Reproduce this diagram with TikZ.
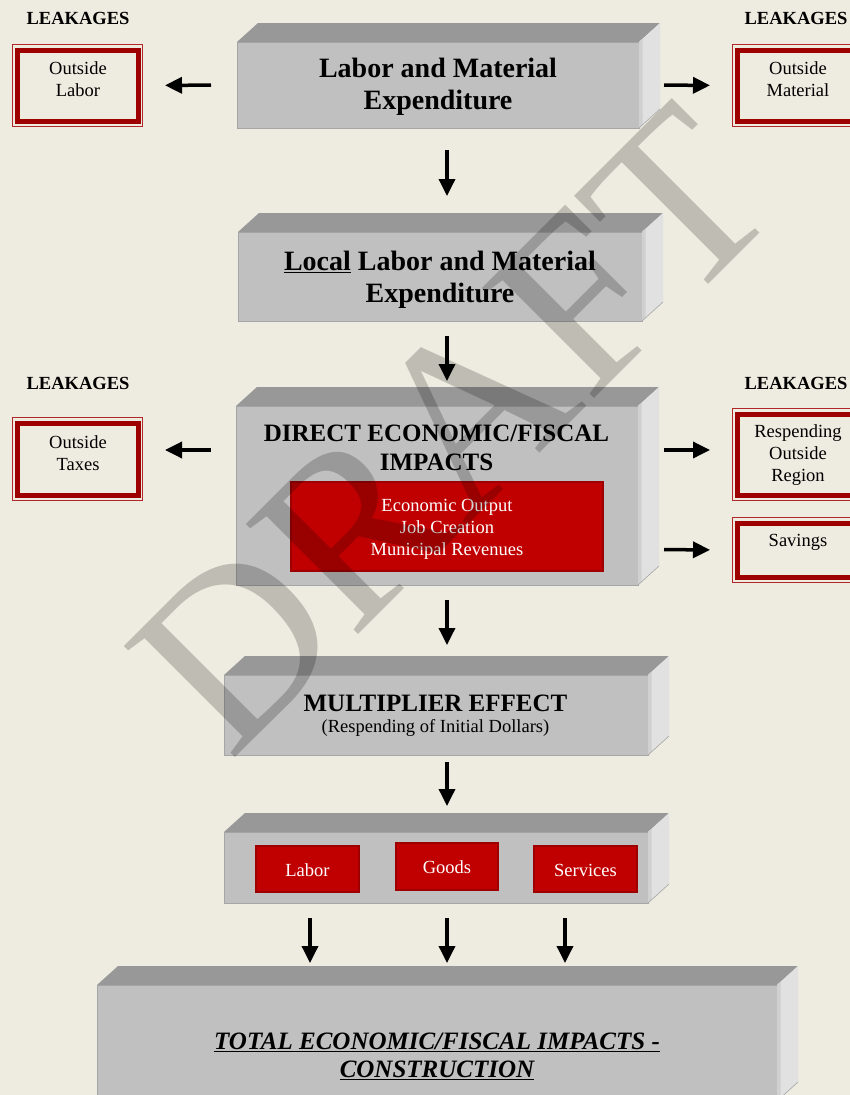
\documentclass[tikz,border=0pt]{standalone}
\usepackage{fontspec}
\setmainfont{Liberation Serif}
\usetikzlibrary{arrows.meta,calc}

\definecolor{paper}{RGB}{238,235,224}
\definecolor{slabfront}{RGB}{192,192,192}
\definecolor{slabtop}{RGB}{152,152,152}
\definecolor{slabside}{RGB}{225,225,225}
\definecolor{slabsidedark}{RGB}{208,208,208}
\definecolor{slabedge}{RGB}{166,166,166}
\definecolor{boxred}{RGB}{192,0,0}
\definecolor{boxredline}{RGB}{158,0,0}
\definecolor{leakred}{RGB}{158,0,0}
\definecolor{leakthin}{RGB}{178,40,40}

% top and right faces of a bevelled slab whose front face is node #1
\newcommand\slabfaces[1]{%
  \fill[slabtop] (#1.north west) -- ++(21,-19) -- ($(#1.north east)+(21,-19)$) -- (#1.north east) -- cycle;
  \fill[slabside] (#1.north east) -- ++(21,-19) -- ($(#1.south east)+(21,-19)$) -- (#1.south east) -- cycle;
  \fill[slabsidedark] (#1.north east) -- ++(3.5,-3.2) -- ($(#1.south east)+(3.5,-3.2)$) -- (#1.south east) -- cycle;
  \draw[slabedge, line width=0.6pt] (#1.south east) -- ($(#1.south east)+(21,-19)$);
}
% thin outer frame of a leakage box
\newcommand\leakframe[1]{%
  \draw[leakthin, line width=1pt] ([xshift=-4.8pt,yshift=5.3pt]#1.north west) rectangle ([xshift=4.8pt,yshift=-5.3pt]#1.south east);
}

\tikzset{
  slab/.style={draw=slabedge, line width=0.8pt, fill=slabfront, inner sep=0pt, outer sep=0pt},
  redbox/.style={draw=boxredline, line width=2pt, fill=boxred, inner sep=0pt, outer sep=0pt},
  leakbox/.style={draw=leakred, line width=5pt, minimum width=121pt, inner sep=0pt, outer sep=0pt},
  headA/.style={font=\bfseries\fontsize{28}{32}\selectfont, align=center, inner sep=0pt},
  headB/.style={font=\bfseries\fontsize{25}{29}\selectfont, align=center, inner sep=0pt},
  smalltext/.style={font=\fontsize{18.5}{22}\selectfont, align=center, inner sep=0pt},
  whitetext/.style={smalltext, text=white},
  leaklabel/.style={font=\bfseries\fontsize{18.5}{22}\selectfont, inner sep=0pt},
  arr/.style={line width=3.5pt, -{Triangle[length=17pt,width=16pt]}},
  watermark/.style={font=\fontsize{240}{240}\selectfont, text=black, text opacity=0.2,
    rotate=45, anchor=base west, inner sep=0pt}
}

\begin{document}
\begin{tikzpicture}[x=1pt, y=-1pt]
\useasboundingbox (0,0) rectangle (850,1095);
\clip (0,0) rectangle (850,1095);
\fill[paper] (0,0) rectangle (850,1095);

% slabs of the main flow
\node[slab, minimum width=402pt, minimum height=86pt] (b1) at (438,85) {};
\slabfaces{b1}
\node[slab, minimum width=404pt, minimum height=89pt] (b2) at (440,276.5) {};
\slabfaces{b2}
\node[slab, minimum width=402pt, minimum height=179pt] (b3) at (437,495.5) {};
\slabfaces{b3}
\node[slab, minimum width=424pt, minimum height=80pt] (b4) at (436,715) {};
\slabfaces{b4}
\node[slab, minimum width=424pt, minimum height=71pt] (b5) at (436,867.5) {};
\slabfaces{b5}
\node[slab, minimum width=680pt, minimum height=116pt] (b6) at (437,1043) {};
\slabfaces{b6}

% red panels
\node[redbox, minimum width=312pt, minimum height=89pt] (rb3) at (447,526.5) {};
\node[redbox, minimum width=103pt, minimum height=46pt] (rl) at (307.5,869) {};
\node[redbox, minimum width=102pt, minimum height=47pt] (rg) at (447,866.5) {};
\node[redbox, minimum width=103pt, minimum height=46pt] (rs) at (585.5,869) {};

% slab texts
\node[headA] (t1) at (438,87) {Labor and Material\\Expenditure};
\node[headA] (t2) at (440,280) {\underline{Local} Labor and Material\\Expenditure};
\node[headB] (t3) at (436.5,447.5) {DIRECT ECONOMIC/FISCAL\\IMPACTS};
\node[whitetext] (t3r) at (447,529) {Economic Output\\Job Creation\\Municipal Revenues};
\node[headB] (t4) at (435.5,703) {MULTIPLIER EFFECT};
\node[smalltext] (t4s) at (435.5,728) {(Respending of Initial Dollars)};
\node[whitetext] (tl) at (307.5,870) {Labor};
\node[whitetext] (tg) at (447,867) {Goods};
\node[whitetext] (ts) at (585.5,870) {Services};
\node[headB, font=\bfseries\itshape\fontsize{25}{28}\selectfont] (t6) at (437,1056)
  {\underline{TOTAL ECONOMIC/FISCAL IMPACTS -}\\\underline{CONSTRUCTION}};

% leakage boxes
\node[leakbox, minimum height=71pt] (ol) at (77.5,85.5) {};
\leakframe{ol}
\node[leakbox, minimum height=72pt] (ot) at (77.5,459) {};
\leakframe{ot}
\node[leakbox, minimum height=71pt] (om) at (797.5,85.5) {};
\leakframe{om}
\node[leakbox, minimum height=81pt] (rr) at (797.5,454.5) {};
\leakframe{rr}
\node[leakbox, minimum height=54pt] (sv) at (797.5,550) {};
\leakframe{sv}

\node[smalltext] (tol) at (78,79) {Outside\\Labor};
\node[smalltext] (tot) at (78,453.5) {Outside\\Taxes};
\node[smalltext] (tom) at (798,79) {Outside\\Material};
\node[smalltext] (trr) at (798,455) {Respending\\Outside\\Region};
\node[smalltext] (tsv) at (798,542) {Savings};

\node[leaklabel] (lk1) at (78,18) {LEAKAGES};
\node[leaklabel] (lk2) at (796,18) {LEAKAGES};
\node[leaklabel] (lk3) at (78,383) {LEAKAGES};
\node[leaklabel] (lk4) at (796,383) {LEAKAGES};

% flow arrows
\draw[arr, shorten <=22pt, shorten >=36pt] ([xshift=9pt]b1.south) -- ([xshift=7pt]b2.north);
\draw[arr, shorten <=15pt, shorten >=25pt] ([xshift=7pt]b2.south) -- ([xshift=10pt]b3.north);
\draw[arr, shorten <=15pt, shorten >=30pt] ([xshift=10pt]b3.south) -- ([xshift=11pt]b4.north);
\draw[arr, shorten <=7pt, shorten >=26pt] ([xshift=11pt]b4.south) -- ([xshift=11pt]b5.north);
\draw[arr, shorten <=15pt, shorten >=22pt] ([xshift=-126pt]b5.south) -- ([xshift=-127pt]b6.north);
\draw[arr, shorten <=15pt, shorten >=22pt] ([xshift=11pt]b5.south) -- ([xshift=10pt]b6.north);
\draw[arr, shorten <=15pt, shorten >=22pt] ([xshift=129pt]b5.south) -- ([xshift=128pt]b6.north);

% leakage arrows
\draw[arr, shorten <=26pt, shorten >=27pt] (b1.west) -- (ol.east);
\draw[arr, shorten <=25pt, shorten >=27pt] (b1.east) -- (om.west);
\draw[arr, shorten <=25pt, shorten >=27pt] ([yshift=45.5pt]b3.west) -- ([yshift=9pt]ot.east);
\draw[arr, shorten <=26pt, shorten >=27pt] ([yshift=45.5pt]b3.east) -- ([yshift=4.5pt]rr.west);
\draw[arr, shorten <=26pt, shorten >=27pt] ([yshift=-54pt]b3.east) -- (sv.west);

% watermark
\node[watermark] (draft) at (230,763) {DRAFT};
\end{tikzpicture}
\end{document}
